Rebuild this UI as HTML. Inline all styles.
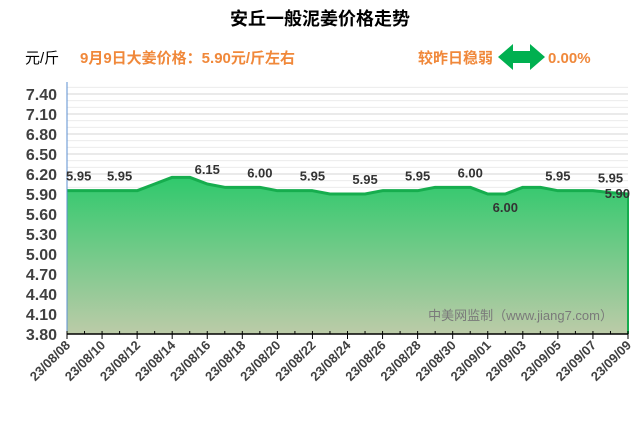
<!DOCTYPE html>
<html><head><meta charset="utf-8">
<style>
html,body{margin:0;padding:0;background:#fff;}
body{width:640px;height:420px;overflow:hidden;font-family:"Liberation Sans","Noto Sans CJK SC",sans-serif;}
</style></head>
<body>
<svg id="chart" width="640" height="420" xmlns="http://www.w3.org/2000/svg" font-family="Liberation Sans, Noto Sans CJK SC, sans-serif">
<defs>
<linearGradient id="fillg" x1="0" y1="0" x2="0" y2="1">
<stop offset="0" stop-color="#2fc96c"/>
<stop offset="1" stop-color="#bccba8"/>
</linearGradient>
</defs>
<text x="320" y="25" text-anchor="middle" font-size="18" font-weight="bold" fill="#000">安丘一般泥姜价格走势</text>
<text x="25" y="63" font-size="15" fill="#000">元/斤</text>
<text x="80" y="63" font-size="15" font-weight="bold" fill="#f0883a">9月9日大姜价格：5.90元/斤左右</text>
<text x="418" y="63" font-size="15" font-weight="bold" fill="#f0883a">较昨日稳弱</text>
<polygon points="498,57 513,44 513,51 530,51 530,44 545,57 530,70 530,63 513,63 513,70" fill="#00b050"/>
<text x="548" y="63" font-size="15" font-weight="bold" fill="#f0883a">0.00%</text>
<g id="grid"></g>
<g id="plot"></g>
<g id="yaxis"></g>
<g id="xaxis"></g>
<g id="labels"></g>
<text x="613" y="320" text-anchor="end" font-size="13" fill="#7a7a7a">中美网监制（www.jiang7.com）</text>
</svg>
<script>
const prices=[5.95,5.95,5.95,5.95,5.95,6.05,6.15,6.15,6.05,6.00,6.00,6.00,5.95,5.95,5.95,5.90,5.90,5.90,5.95,5.95,5.95,6.00,6.00,6.00,5.90,5.90,6.00,6.00,5.95,5.95,5.95,5.92,5.90];
const dateLabels=["23/08/08","23/08/10","23/08/12","23/08/14","23/08/16","23/08/18","23/08/20","23/08/22","23/08/24","23/08/26","23/08/28","23/08/30","23/09/01","23/09/03","23/09/05","23/09/07","23/09/09"];
const yTicks=[7.40,7.10,6.80,6.50,6.20,5.90,5.60,5.30,5.00,4.70,4.40,4.10,3.80];
const labelIdx=[0,3,8,11,14,17,20,23,25,28,31,32];
const labelText=["5.95","5.95","6.15","6.00","5.95","5.95","5.95","6.00","6.00","5.95","5.95","5.90"];
const X0=67,X1=628,Y0=334,Y1=94,YMIN=3.8,YMAX=7.4,TOP=82;
const x=i=>X0+(X1-X0)*i/(prices.length-1);
const y=v=>Y0-(v-YMIN)/(YMAX-YMIN)*(Y0-Y1);
const NS="http://www.w3.org/2000/svg";
function mk(t,a,p){const e=document.createElementNS(NS,t);for(const k in a)e.setAttribute(k,a[k]);p.appendChild(e);return e;}
const grid=document.getElementById('grid');
for(let v=YMIN+0.1;v<7.65;v+=0.1){
 const yy=y(v);if(yy<TOP-1)break;
 const major=Math.abs(((v-YMIN)/0.3)-Math.round((v-YMIN)/0.3))<0.01;
 const l=mk('line',{x1:X0,x2:X1,y1:yy,y2:yy,stroke:major?'#d4d4d4':'#ececec','stroke-width':1},grid);
 
 
}
const plot=document.getElementById('plot');
let d=`M${x(0)},${Y0}`;prices.forEach((v,i)=>d+=` L${x(i)},${y(v)}`);d+=` L${x(prices.length-1)},${Y0} Z`;
const area=mk('path',{d:d,fill:'url(#fillg)'},plot);


let ld='';prices.forEach((v,i)=>ld+=(i?' L':'M')+x(i)+','+y(v));
const line=mk('path',{d:ld,fill:'none',stroke:'#16ad4e','stroke-width':3,'stroke-linejoin':'round'},plot);


const rb=mk('line',{x1:X1,x2:X1,y1:y(prices[prices.length-1]),y2:Y0,stroke:'#16ad4e','stroke-width':2},plot);


const yax=document.getElementById('yaxis');
const la=mk('line',{x1:X0,x2:X0,y1:TOP,y2:Y0,stroke:'#5b8fd0','stroke-width':1},yax);


yTicks.forEach(v=>{const t=mk('text',{x:57,y:y(v)+6,'text-anchor':'end','font-size':16,'font-weight':'bold',fill:'#404040'},yax);t.textContent=v.toFixed(2);
 
 });
const xax=document.getElementById('xaxis');
const ba=mk('line',{x1:X0,x2:X1,y1:Y0,y2:Y0,stroke:'#000','stroke-width':1.5},xax);


for(let i=0;i<prices.length;i++){const tk=mk('line',{x1:x(i),x2:x(i),y1:Y0-3,y2:Y0+(i%2?0:5),stroke:'#000'},xax);
 
 }
dateLabels.forEach((s,k)=>{const xx=x(k*2);const t=mk('text',{x:xx+4,y:Y0+12,'text-anchor':'end','font-size':13,'font-weight':'bold',fill:'#404040',transform:`rotate(-45 ${xx+4} ${Y0+12})`},xax);t.textContent=s;
 
 });
const lg=document.getElementById('labels');
labelIdx.forEach((idx,k)=>{const v=prices[idx];let xx=x(idx),yy=y(v)-10,anc='middle';
 if(idx===0){xx=x(idx)-1;anc='start';}
 if(idx===prices.length-1){xx=x(idx)+2;anc='end';yy=y(v)+4;}
 if(idx===25){yy=y(v)+18;}
 const t=mk('text',{x:xx,y:yy,'text-anchor':anc,'font-size':13,'font-weight':'bold',fill:'#333'},lg);t.textContent=labelText[k];
 
 });
</script>
</body></html>
